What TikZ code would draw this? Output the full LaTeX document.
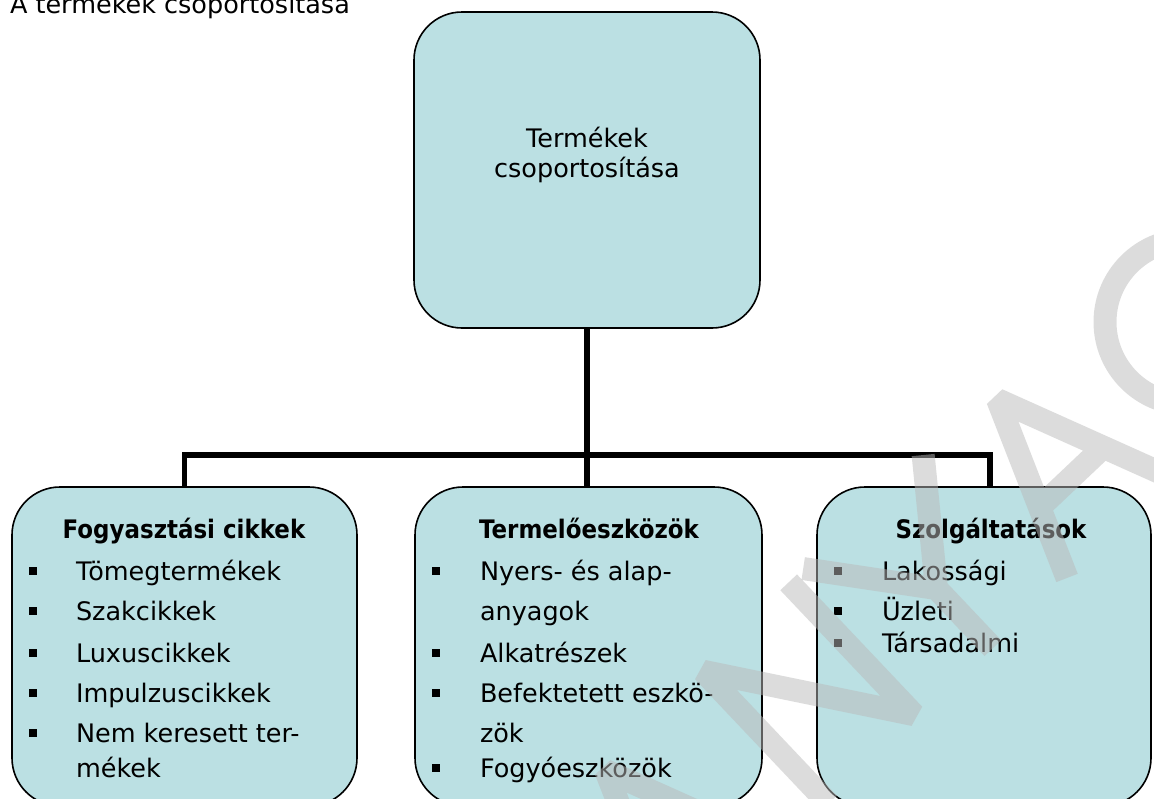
\documentclass[tikz,border=0pt]{standalone}
\usepackage{fontspec}
\setmainfont{DejaVu Sans}
\newfontfamily\headfont[FakeStretch=0.9]{DejaVu Sans}
\definecolor{boxfill}{RGB}{187,224,227}
\definecolor{wm}{RGB}{186,186,186}
\begin{document}
\begin{tikzpicture}[x=1pt,y=-1pt,
  every node/.style={inner sep=0pt, outer sep=0pt, font=\fontsize{25.5pt}{30pt}\selectfont},
  box/.style={draw=black, line width=1.6pt, fill=boxfill, rounded corners=48pt},
  conn/.style={line width=5.5pt, line join=miter},
  item/.style={anchor=base west},
  ctext/.style={anchor=base},
  head/.style={anchor=base, font=\fontsize{25.5pt}{30pt}\headfont\bfseries},
  bul/.style={fill=black, minimum size=8pt, inner sep=0pt},
  wmark/.style={draw=wm, line width=23pt, opacity=0.5, line join=bevel}
]
\useasboundingbox (0,0) rectangle (1154,798);
\clip (0,0) rectangle (1154,798);

% title
\node[item] (title) at (10,13) {A termékek csoportosítása};

% boxes
\node[box, minimum width=346pt, minimum height=316pt] (top) at (587,170) {};
\node[box, minimum width=345pt, minimum height=319pt] (fogy) at (184.5,646.5) {};
\node[box, minimum width=347pt, minimum height=319pt] (term) at (588.5,646.5) {};
\node[box, minimum width=334pt, minimum height=319pt] (szol) at (984,646.5) {};

% connectors
\coordinate (bus) at (587,455);
\draw[conn] (top.south) -- (bus);
\draw[conn] (fogy.north) |- (bus) -| ([xshift=6pt]szol.north);
\draw[conn] (bus) -- (bus |- term.north);

% top box text
\node[ctext] (t1) at (587,147) {Termékek};
\node[ctext] (t2) at (587,177) {csoportosítása};

% left box
\node[head] (h1) at (184,538) {Fogyasztási cikkek};
\node[bul] (b11) at (33,571) {};
\node[item] (i11) at (76,580) {Tömegtermékek};
\node[bul] (b12) at (33,611) {};
\node[item] (i12) at (76,620) {Szakcikkek};
\node[bul] (b13) at (33,653) {};
\node[item] (i13) at (76,662) {Luxuscikkek};
\node[bul] (b14) at (33,693) {};
\node[item] (i14) at (76,702) {Impulzuscikkek};
\node[bul] (b15) at (33,733) {};
\node[item] (i15) at (76,742) {Nem keresett ter-};
\node[item] (i16) at (76,777) {mékek};

% middle box
\node[head] (h2) at (589,538) {Termelőeszközök};
\node[bul] (b21) at (436,571) {};
\node[item] (i21) at (480,580) {Nyers- és alap-};
\node[item] (i22) at (480,620) {anyagok};
\node[bul] (b23) at (436,653) {};
\node[item] (i23) at (480,662) {Alkatrészek};
\node[bul] (b24) at (436,693) {};
\node[item] (i24) at (480,702) {Befektetett eszkö-};
\node[item] (i25) at (480,742) {zök};
\node[bul] (b26) at (436,768) {};
\node[item] (i26) at (480,777) {Fogyóeszközök};

% right box
\node[head] (h3) at (991,538) {Szolgáltatások};
\node[bul] (b31) at (838,571) {};
\node[item] (i31) at (882,580) {Lakossági};
\node[bul] (b32) at (838,611) {};
\node[item] (i32) at (882,620) {Üzleti};
\node[bul] (b33) at (838,643) {};
\node[item] (i33) at (882,652) {Társadalmi};

% watermark (MUNKAANYAG, partly visible)
\begin{scope}[shift={(918,719)}, x={(0.727pt,0.688pt)}, y={(-0.688pt,0.727pt)}]
  \draw[wmark] (-334,0) -- (-262,177) -- (-189,0) (-305,70) -- (-218,70);
  \draw[wmark] (-123,0) -- (-123,182) -- (0,6) -- (0,188);
  \draw[wmark] (20,188) -- (103,82) -- (185,188) (103,82) -- (103,0);
  \draw[wmark] (205,0) -- (277,177) -- (350,0) (233,70) -- (322,70);
\end{scope}
\draw[wmark] (1187,322) circle[radius=82pt];
\end{tikzpicture}
\end{document}
